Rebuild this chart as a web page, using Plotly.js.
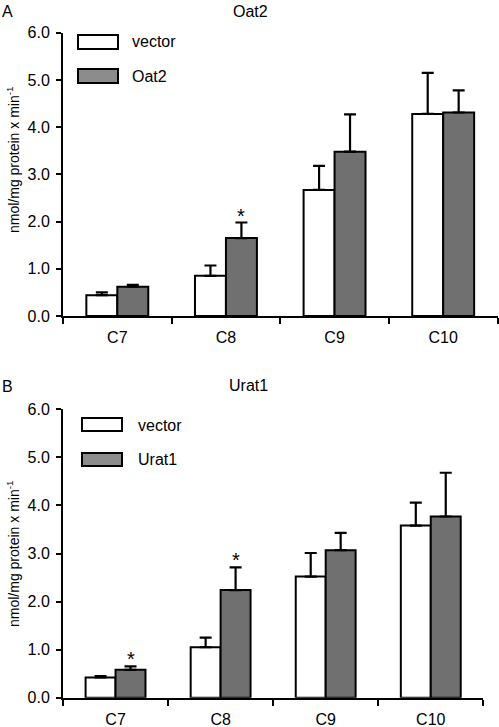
<!DOCTYPE html>
<html>
<head>
<meta charset="utf-8">
<script src="https://cdn.plot.ly/plotly-3.0.1.min.js"></script>
<style>html,body{margin:0;padding:0;background:#fff;}#chart{width:499px;height:727px;}</style>
</head>
<body>
<div id="chart"></div>
<script>
// ---- data ----
var categories = ['C7', 'C8', 'C9', 'C10'];

var oatVector = [0.44, 0.85, 2.67, 4.28];
var oatVectorErr = [0.06, 0.22, 0.51, 0.87];
var oat2 = [0.62, 1.65, 3.48, 4.31];
var oat2Err = [0.04, 0.33, 0.79, 0.47];
var oat2Sig = ['', '*', '', ''];

var uratVector = [0.42, 1.05, 2.52, 3.58];
var uratVectorErr = [0.03, 0.20, 0.49, 0.48];
var urat1 = [0.58, 2.24, 3.07, 3.77];
var urat1Err = [0.07, 0.47, 0.36, 0.91];
var urat1Sig = ['*', '*', '', ''];

var noErr = [0, 0, 0, 0];
var yTicks = [0, 1, 2, 3, 4, 5, 6];
var yTickText = ['0.0', '1.0', '2.0', '3.0', '4.0', '5.0', '6.0'];

// ---- styles ----
var FONT = 'Liberation Sans, Arial, sans-serif';
var GRAY = '#707070';
var W = 499, H = 727;
function px(x) { return x / W; }
function py(y) { return 1 - y / H; }

function barTrace(vals, errs, fill, xa, ya) {
  return {
    type: 'bar', x: categories, y: vals, xaxis: xa, yaxis: ya,
    marker: {color: fill, line: {color: '#000', width: 2}},
    error_y: {type: 'data', symmetric: false, array: errs, arrayminus: noErr,
              color: '#000', thickness: 2.2, width: 6},
    showlegend: false, hoverinfo: 'skip'
  };
}

var data = [
  barTrace(oatVector, oatVectorErr, '#ffffff', 'x', 'y'),
  barTrace(oat2, oat2Err, GRAY, 'x', 'y'),
  barTrace(uratVector, uratVectorErr, '#ffffff', 'x2', 'y2'),
  barTrace(urat1, urat1Err, GRAY, 'x2', 'y2')
];

function xAxis(domain, anchor) {
  return {
    domain: domain, anchor: anchor, type: 'category', range: [-0.5, 3.5],
    showline: true, linecolor: '#000', linewidth: 2,
    ticks: 'outside', tickson: 'boundaries', ticklen: 6, tickwidth: 2, tickcolor: '#000',
    ticklabelstandoff: 6,
    showgrid: false, zeroline: false, fixedrange: true,
    tickfont: {family: FONT, size: 16, color: '#000'}
  };
}
function yAxis(domain, anchor) {
  return {
    domain: domain, anchor: anchor, range: [0, 6],
    tickvals: yTicks, ticktext: yTickText,
    showline: true, linecolor: '#000', linewidth: 2,
    ticks: 'outside', ticklen: 5, tickwidth: 2, tickcolor: '#000',
    ticklabelstandoff: 3,
    showgrid: false, zeroline: false, fixedrange: true,
    tickfont: {family: FONT, size: 16, color: '#000'}
  };
}

var annotations = [];
var shapes = [];

function addSig(sig, vals, errs, xr, yr) {
  for (var i = 0; i < categories.length; i++) {
    if (sig[i]) {
      annotations.push({
        x: categories[i], y: vals[i] + errs[i], xref: xr, yref: yr,
        xshift: 15.5, yshift: -6, yanchor: 'bottom', showarrow: false,
        text: sig[i], font: {family: FONT, size: 20, color: '#000'}
      });
    }
  }
}
addSig(oat2Sig, oat2, oat2Err, 'x', 'y');
addSig(urat1Sig, urat1, urat1Err, 'x2', 'y2');

function text(t, x, y, size, opts) {
  var a = {text: t, x: px(x), y: py(y), xref: 'paper', yref: 'paper',
           showarrow: false, font: {family: FONT, size: size, color: '#000'},
           xanchor: 'center', yanchor: 'middle'};
  for (var k in opts) a[k] = opts[k];
  annotations.push(a);
}

// panel letters and titles
text('A', 7, 12, 16, {});
text('Oat2', 250.5, 12, 16, {});
text('B', 7, 386, 16, {});
text('Urat1', 248.7, 385, 16, {});

// y-axis titles
text('nmol/mg protein x min<sup>-1</sup>', 13, 160, 14, {textangle: -90});
text('nmol/mg protein x min<sup>-1</sup>', 13, 554, 14, {textangle: -90});

// legends
function legendBox(x0, y0, x1, y1, fill) {
  shapes.push({type: 'rect', xref: 'paper', yref: 'paper',
               x0: px(x0), x1: px(x1), y0: py(y1), y1: py(y0),
               fillcolor: fill, line: {color: '#000', width: 2}});
}
legendBox(78, 35, 118, 49, '#ffffff');
legendBox(78, 69, 118, 83, '#8c8c8c');
text('vector', 130, 42, 16, {xanchor: 'left'});
text('Oat2', 130, 76, 16, {xanchor: 'left'});

legendBox(82, 418, 122, 431, '#ffffff');
legendBox(82, 453, 122, 466, '#8c8c8c');
text('vector', 136, 425, 16, {xanchor: 'left'});
text('Urat1', 136, 459, 16, {xanchor: 'left'});

var layout = {
  width: W, height: H,
  margin: {l: 0, r: 0, t: 0, b: 0},
  paper_bgcolor: '#fff', plot_bgcolor: 'rgba(0,0,0,0)',
  barmode: 'group', bargap: 0.43, bargroupgap: 0,
  showlegend: false,
  xaxis: xAxis([px(63), px(497.5)], 'y'),
  yaxis: yAxis([py(316), py(32.7)], 'x'),
  xaxis2: xAxis([px(63), px(483.3)], 'y2'),
  yaxis2: yAxis([py(697.7), py(409.3)], 'x2'),
  annotations: annotations,
  shapes: shapes
};

Plotly.newPlot('chart', data, layout, {staticPlot: true, displayModeBar: false});
</script>
</body>
</html>
